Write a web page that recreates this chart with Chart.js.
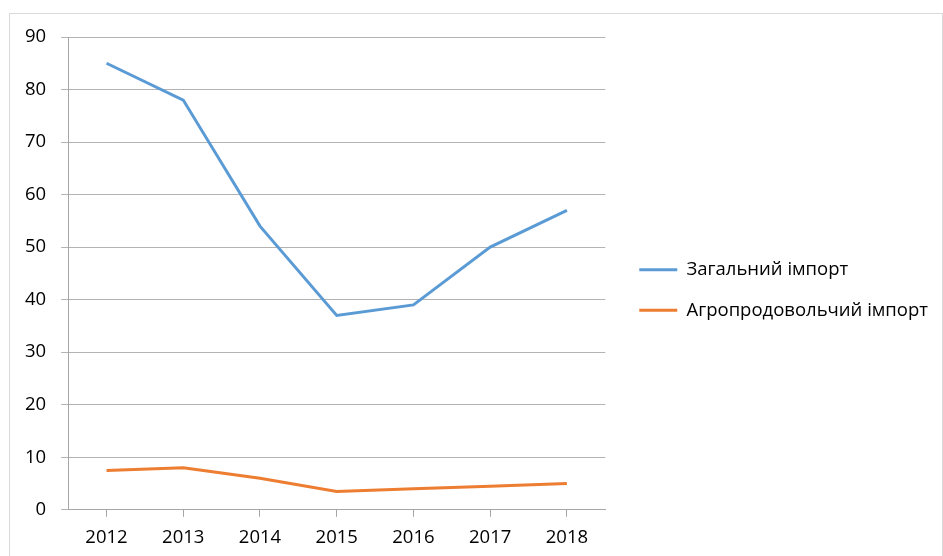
<!DOCTYPE html>
<html>
<head>
<meta charset="utf-8">
<script src="https://cdn.jsdelivr.net/npm/chart.js@4"></script>
<style>
    body { margin: 0; background: #fff; overflow: hidden; }
    #frame {
        position: absolute; left: 9px; top: 13px;
        width: 932px; height: 560px;
        border: 1px solid #d9d9d9;
    }
    #wrap { position: relative; width: 932px; height: 545px; }
</style>
</head>
<body>
<div id="frame"><div id="wrap"><canvas id="chart"></canvas></div></div>
<script>
// Chart data
const years = ['2012', '2013', '2014', '2015', '2016', '2017', '2018'];
const totalImport = [85, 78, 54, 37, 39, 50, 57];
const agroImport = [7.5, 8, 6, 3.5, 4, 4.5, 5];
const seriesNames = ['Загальний імпорт', 'Агропродовольчий імпорт'];

const FONT = { family: "'Open Sans', sans-serif", size: 18.5 };
const LEGEND_GAP = 16;  // extra space between plot and legend

// the layout caps a side legend at a quarter of the width, let it be wider,
// and keep some empty room between the plot and the legend items
const wideLegend = {
    id: 'wideLegend',
    afterInit(chart) {
        const legend = chart.legend;
        const update = legend.update;
        const fit = legend.fit;
        legend.update = function (maxWidth, maxHeight, margins) {
            return update.call(this, Math.max(maxWidth, 380), maxHeight, margins);
        };
        legend.fit = function () {
            fit.call(this);
            this.width += LEGEND_GAP;
        };
    },
    afterLayout(chart) {
        const legend = chart.legend;
        legend.left += LEGEND_GAP - 4;
        legend.top -= 8;
        legend.bottom -= 8;
    }
};

function drawChart() {
    new Chart(document.getElementById('chart').getContext('2d'), {
        type: 'line',
        data: {
            labels: years,
            datasets: [
                {
                    label: seriesNames[0],
                    data: totalImport,
                    borderColor: '#5b9bd5',
                    backgroundColor: '#5b9bd5',
                    borderWidth: 3,
                    pointRadius: 0,
                    pointStyle: 'line',
                    tension: 0
                },
                {
                    label: seriesNames[1],
                    data: agroImport,
                    borderColor: '#ed7d31',
                    backgroundColor: '#ed7d31',
                    borderWidth: 3,
                    pointRadius: 0,
                    pointStyle: 'line',
                    tension: 0
                }
            ]
        },
        options: {
            responsive: true,
            maintainAspectRatio: false,
            animation: false,
            layout: { autoPadding: false, padding: { left: 0, top: 23, bottom: 0, right: 0 } },
            plugins: {
                tooltip: { enabled: false },
                legend: {
                    position: 'right',
                    labels: {
                        usePointStyle: true,
                        pointStyleWidth: 38,
                        padding: 22,
                        color: '#000',
                        font: FONT
                    }
                }
            },
            scales: {
                x: {
                    offset: true,
                    grid: {
                        display: true,
                        drawOnChartArea: false,
                        drawTicks: true,
                        tickLength: 7,
                        color: '#a6a6a6'
                    },
                    border: { color: '#a6a6a6', width: 1 },
                    ticks: { color: '#000', font: FONT, padding: 10, maxRotation: 0 }
                },
                y: {
                    min: 0,
                    max: 90,
                    grid: { color: '#b3b3b3', tickLength: 7 },
                    border: { color: '#a6a6a6', width: 1 },
                    ticks: { stepSize: 10, color: '#000', font: FONT, padding: 15 },
                    // the tick padding should not push the plot down from the top
                    afterFit(scale) {
                        scale.paddingTop = 0;
                        scale.paddingBottom = 0;
                    }
                }
            }
        },
        plugins: [wideLegend]
    });
}

// wait for the font so the legend is measured correctly
document.fonts.load('18px "Open Sans"').then(drawChart, drawChart);
</script>
</body>
</html>
